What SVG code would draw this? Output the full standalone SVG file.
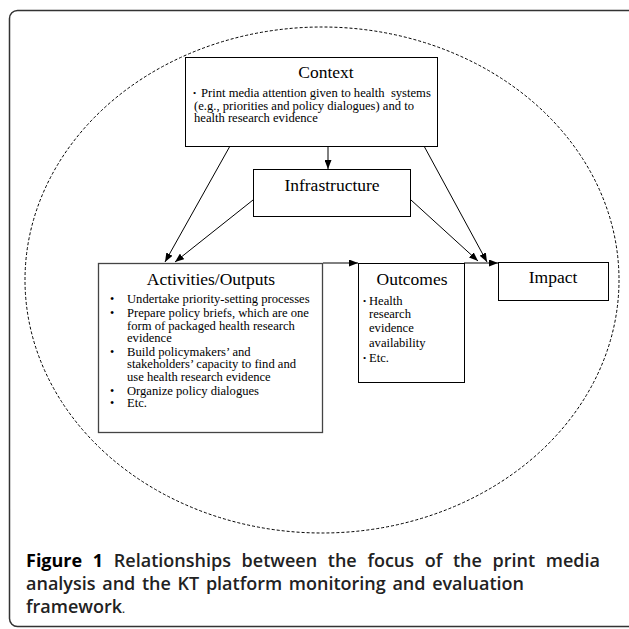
<svg xmlns="http://www.w3.org/2000/svg" width="629" height="629" viewBox="0 0 629 629">
<style>
.box{fill:#fff;stroke:#000;stroke-width:1}
.t{font-family:"Liberation Serif","Times New Roman",serif;fill:#000}
.ttl{font-size:17.5px;text-anchor:middle}
.b{font-size:12.6px}
.dot{font-size:9px}
.dot2{font-size:12px}
.cap{font-family:"Open Sans","Noto Sans",sans-serif;font-size:18px;font-weight:600;fill:#222}
.ln{stroke:#000;stroke-width:1;fill:none;marker-end:url(#ah)}
</style>
<defs>
<marker id="ah" markerWidth="9" markerHeight="7" refX="9" refY="3.5" orient="auto" markerUnits="userSpaceOnUse">
<path d="M0,0 L9,3.5 L0,7 z" fill="#000"/>
</marker>
</defs>
<rect x="9.5" y="10.5" width="630" height="616" rx="8" fill="#fff" stroke="#333" stroke-width="1.5"/>
<ellipse cx="322" cy="280" rx="297" ry="253" fill="none" stroke="#000" stroke-width="1" stroke-dasharray="3,2"/>
<g id="connectors">
<line class="ln" x1="328" y1="146" x2="328" y2="169"/>
<line class="ln" x1="230" y1="146" x2="165" y2="262"/>
<line class="ln" x1="253" y1="200" x2="175" y2="262"/>
<line class="ln" x1="424" y1="146" x2="487" y2="262"/>
<line class="ln" x1="411" y1="200" x2="478" y2="261"/>
<line class="ln" x1="323" y1="263" x2="358" y2="263" stroke="#555"/>
<line class="ln" x1="464" y1="263" x2="498" y2="263"/>
</g>
<g id="context">
<rect class="box" x="185.5" y="57.5" width="252" height="89"/>
<text class="t ttl" x="326" y="78">Context</text>
<text class="t dot" x="193" y="96">•</text>
<text class="t b" x="201" y="97" style="white-space:pre">Print media attention given to health  systems</text>
<text class="t b" x="194" y="110">(e.g., priorities and policy dialogues) and to</text>
<text class="t b" x="194" y="122">health research evidence</text>
</g>
<g id="infrastructure">
<rect class="box" x="253.5" y="169.5" width="157" height="47"/>
<text class="t ttl" x="332" y="191">Infrastructure</text>
</g>
<g id="activities">
<rect x="98.5" y="263.5" width="224" height="169" fill="#fff" stroke="#444" stroke-width="1.3"/>
<text class="t ttl" x="211" y="285">Activities/Outputs</text>
<text class="t dot2" x="110" y="303">•</text>
<text class="t b" x="127" y="303">Undertake priority-setting processes</text>
<text class="t dot2" x="110" y="317">•</text>
<text class="t b" x="127" y="317">Prepare policy briefs, which are one</text>
<text class="t b" x="127" y="330">form of packaged health research</text>
<text class="t b" x="127" y="342">evidence</text>
<text class="t dot2" x="110" y="356">•</text>
<text class="t b" x="127" y="356">Build policymakers’ and</text>
<text class="t b" x="127" y="368">stakeholders’ capacity to find and</text>
<text class="t b" x="127" y="381">use health research evidence</text>
<text class="t dot2" x="110" y="395">•</text>
<text class="t b" x="127" y="395">Organize policy dialogues</text>
<text class="t dot2" x="110" y="407">•</text>
<text class="t b" x="127" y="407">Etc.</text>
</g>
<g id="outcomes">
<rect class="box" x="358.5" y="263.5" width="106" height="119"/>
<text class="t ttl" x="412" y="285">Outcomes</text>
<text class="t dot" x="363" y="304">•</text>
<text class="t b" x="369" y="305">Health</text>
<text class="t b" x="369" y="318">research</text>
<text class="t b" x="369" y="332">evidence</text>
<text class="t b" x="369" y="347">availability</text>
<text class="t dot" x="363" y="361">•</text>
<text class="t b" x="369" y="362">Etc.</text>
</g>
<g id="impact">
<rect class="box" x="498.5" y="262.5" width="110" height="38"/>
<text class="t ttl" x="553" y="283">Impact</text>
</g>
<g id="caption">
<text class="cap" x="26" y="567" word-spacing="6"><tspan font-weight="700" fill="#000">Figure 1</tspan> Relationships between the focus of the print media</text>
<text class="cap" x="26" y="590" word-spacing="2">analysis and the KT platform monitoring and evaluation</text>
<text class="cap" x="26" y="613">framework<tspan font-size="11px">.</tspan></text>
</g>
</svg>
